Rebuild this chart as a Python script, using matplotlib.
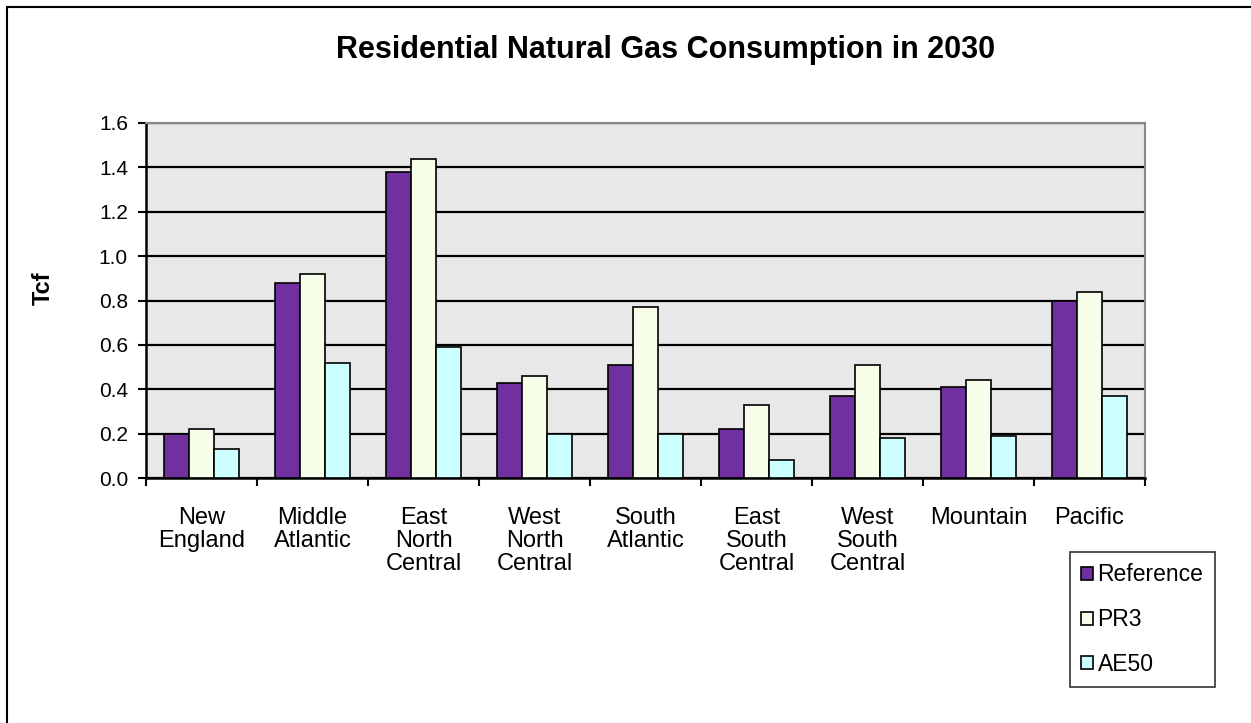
import numpy as np
import matplotlib
matplotlib.use('Agg')
import matplotlib.pyplot as plt
from matplotlib.patches import Rectangle

plt.rcParams['font.family'] = ['Liberation Sans', 'DejaVu Sans']

regions = ['New\nEngland', 'Middle\nAtlantic', 'East\nNorth\nCentral', 'West\nNorth\nCentral',
           'South\nAtlantic', 'East\nSouth\nCentral', 'West\nSouth\nCentral', 'Mountain', 'Pacific']
reference = [0.20, 0.88, 1.38, 0.43, 0.51, 0.22, 0.37, 0.41, 0.80]
pr3 = [0.22, 0.92, 1.44, 0.46, 0.77, 0.33, 0.51, 0.44, 0.84]
ae50 = [0.13, 0.52, 0.59, 0.20, 0.20, 0.08, 0.18, 0.19, 0.37]
series_names = ['Reference', 'PR3', 'AE50']
colors = ['#7030A0', '#F7FFEA', '#CCFFFF']

W, H = 1251, 723
fig = plt.figure(figsize=(W / 100, H / 100), dpi=100)
ax = fig.add_axes([146 / W, 1 - 478 / H, (1145 - 146) / W, (478 - 123) / H])
ax.set_facecolor('#E8E8E8')

x = np.arange(len(regions))
w = 0.225
for i, (vals, name, c) in enumerate(zip([reference, pr3, ae50], series_names, colors)):
    ax.bar(x + (i - 1) * w, vals, w, color=c, edgecolor='black', linewidth=1.2,
           label=name, zorder=3)

ax.set_xlim(-0.5, len(regions) - 0.5)
ax.set_ylim(0, 1.6)
ax.set_yticks(np.arange(0, 1.61, 0.2))
ax.set_yticklabels(['%.1f' % v for v in np.arange(0, 1.61, 0.2)], fontsize=15)
ax.grid(axis='y', color='black', linewidth=1.6, zorder=1)
ax.set_axisbelow(True)

ax.set_xticks(np.arange(-0.5, len(regions)), labels=[''] * (len(regions) + 1))
ax.set_xticks(x, labels=regions, minor=True)
ax.tick_params(axis='x', which='major', length=6, width=1.5, direction='out')
ax.tick_params(axis='x', which='minor', length=0, pad=21, labelsize=17)
for lab in ax.get_xticklabels(minor=True):
    lab.set_verticalalignment('top')
    lab.set_linespacing(1.04)
ax.tick_params(axis='y', length=6, width=1.5, direction='out', pad=7)

for s in ['left', 'bottom']:
    ax.spines[s].set_color('black')
    ax.spines[s].set_linewidth(1.8)
for s in ['top', 'right']:
    ax.spines[s].set_color('#888888')
    ax.spines[s].set_linewidth(1.5)

fig.text(666 / W, 1 - 50 / H, 'Residential Natural Gas Consumption in 2030',
         ha='center', va='center', fontsize=22, fontweight='bold')
fig.text(43 / W, 1 - 288 / H, 'Tcf', ha='center', va='center', rotation=90,
         fontsize=17, fontweight='bold')

leg = ax.legend(loc='upper left', bbox_to_anchor=(1070 / W, 1 - 552 / H),
                bbox_transform=fig.transFigure, fontsize=16.5, frameon=True,
                fancybox=False, handlelength=0.5, handleheight=0.5,
                handletextpad=0.2, labelspacing=0.95, borderpad=0.5,
                borderaxespad=0)
leg.get_frame().set_edgecolor('black')
leg.get_frame().set_linewidth(1.2)

fig.patches.append(Rectangle((7 / W, -0.1), 1.2, 1 - 7 / H + 0.1, transform=fig.transFigure,
                             fill=False, edgecolor='black', linewidth=1.5))

fig.savefig('out.png', dpi=100)
